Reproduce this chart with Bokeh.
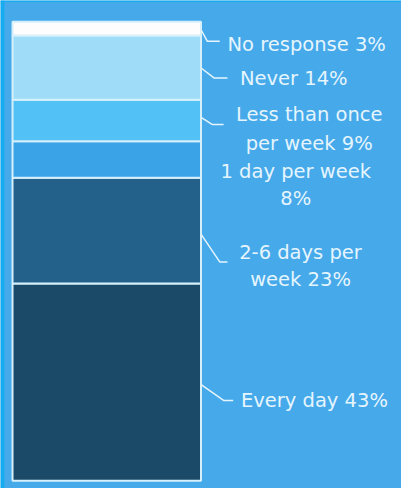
from bokeh.plotting import figure
from bokeh.models import Range1d, ColumnDataSource
from bokeh.core.properties import value
from bokeh.embed import file_html
from bokeh.resources import INLINE

# ---- data ----
categories = ["Every day", "2-6 days per week", "1 day per week",
              "Less than once per week", "Never", "No response"]
percents = [43, 23, 8, 9, 14, 3]
colors = ["#1b4a69", "#23618b", "#3aa3e8", "#52c1f6", "#9fdcf8", "#fdfdfd"]
label_lines = [["Every day 43%"], ["2-6 days per", "week 23%"], ["1 day per week", "8%"],
               ["Less than once", "per week 9%"], ["Never  14%"], ["No response 3%"]]

# ---- layout: x in reference px (0..417), y in percent ----
W, H = 401, 488
REF_W, REF_H = 417, 504
BASE = 496.0          # reference px of 0 %
PX_PER_PCT = 4.74     # reference px per 1 %
def sy(y):  # reference screen y -> data value
    return (BASE - y) / PX_PER_PCT

BG = "#45a9ea"
FG = "#e6f5fd"
p = figure(width=W, height=H, output_backend="svg", toolbar_location=None,
           x_range=Range1d(0, REF_W), y_range=Range1d(sy(REF_H), sy(0)),
           min_border=0, background_fill_color=BG, border_fill_color=BG,
           outline_line_color=None)
p.xaxis.visible = False
p.yaxis.visible = False
p.grid.visible = False

# bright frame edge on the left / top of the reference
p.quad(left=0, right=4, bottom=sy(REF_H), top=sy(0), fill_color="#16acf0", line_color=None)
p.quad(left=0, right=REF_W, bottom=sy(1.5), top=sy(0), fill_color="#16acf0", line_color=None)

bottoms, tops = [], []
acc = 0
for v in percents:
    bottoms.append(acc)
    acc += v
    tops.append(acc)
src = ColumnDataSource(dict(cat=categories, bottom=bottoms, top=tops, color=colors))
p.vbar(x=110.5, width=196, bottom="bottom", top="top", fill_color="color",
       line_color="#d6f0fb", line_width=2, source=src)

# label placement per category: (align, x, [line ys], connector points)
placements = [
    ("left", 250, [413], [(209, 397), (232, 413), (242, 413)]),
    ("center", 312, [260, 288], [(209, 242), (228, 270), (236, 270)]),
    ("center", 307, [177, 205], None),
    ("center", 321, [118, 148], [(209, 121), (220, 128), (232, 128)]),
    ("left", 249, [81], [(209, 70), (222, 80), (236, 80)]),
    ("left", 236, [45], [(209, 31), (215, 42), (228, 42)]),
]
for lines, (align, x, ys, conn) in zip(label_lines, placements):
    p.text(x=[x] * len(lines), y=[sy(y) for y in ys], text=lines,
           text_align=align, text_baseline="middle", text_color=FG,
           text_font=value("DejaVu Sans"), text_font_size="19.5px")
    if conn:
        p.line([a for a, b in conn], [sy(b) for a, b in conn],
               line_color=FG, line_width=1.5)

open("out.html", "w").write(file_html(p, INLINE))
